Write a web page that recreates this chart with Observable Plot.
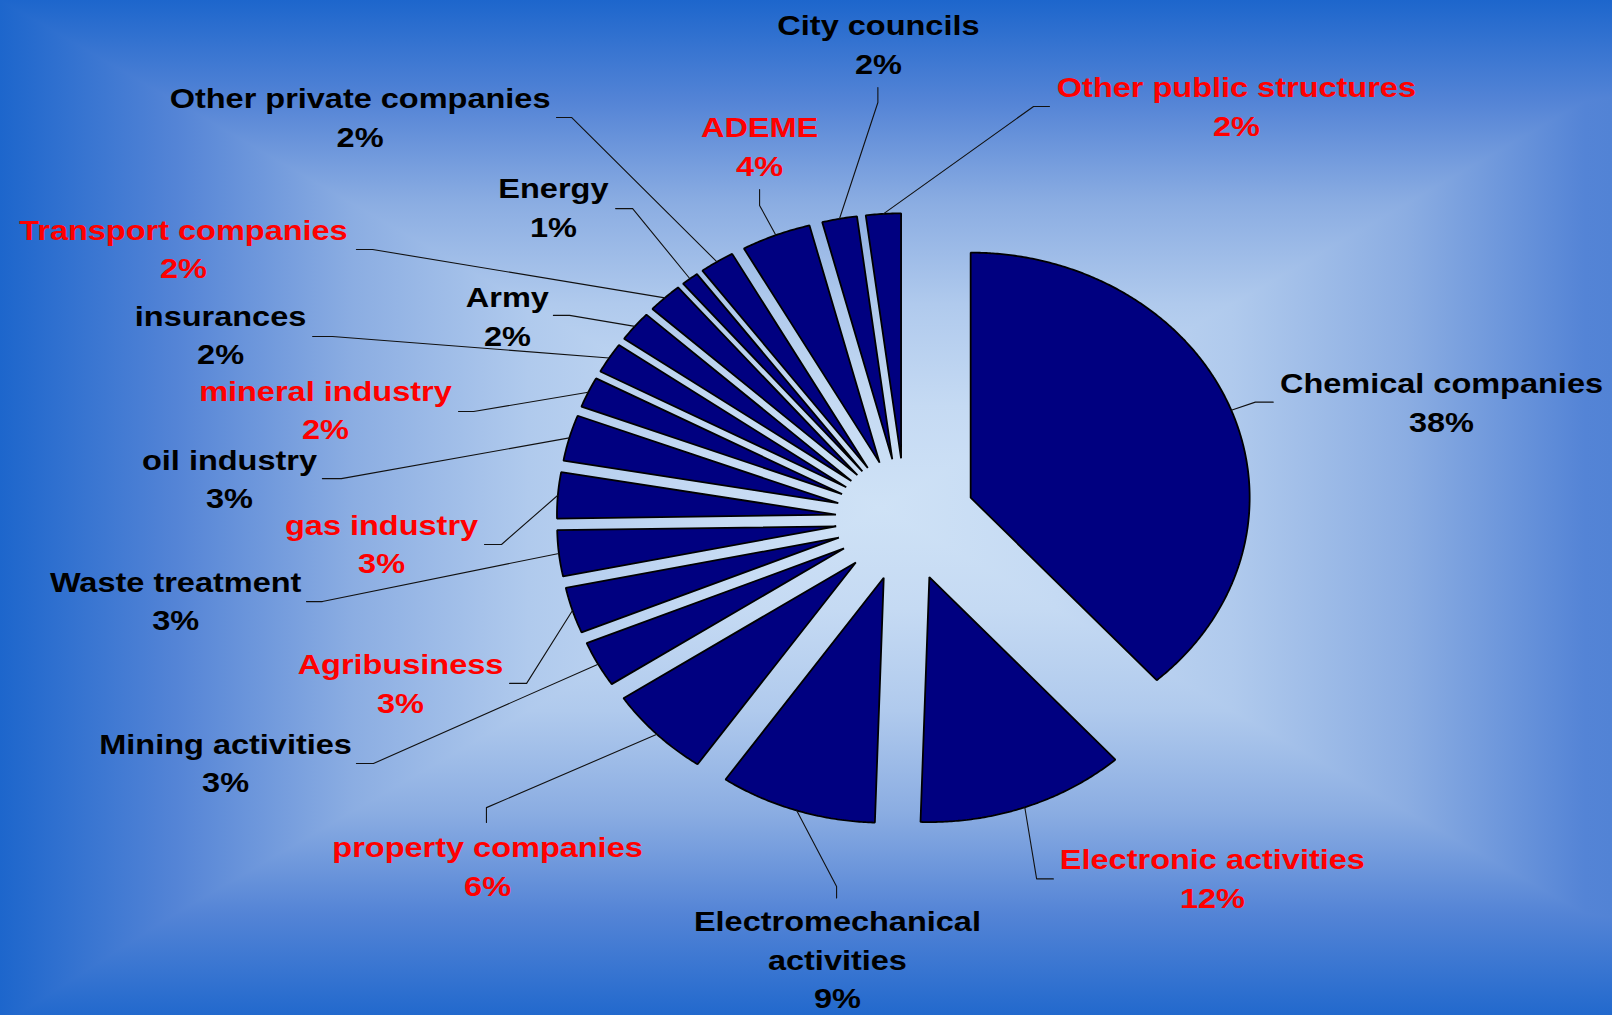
<!DOCTYPE html>
<html>
<head>
<meta charset="utf-8">
<script src="https://cdn.jsdelivr.net/npm/d3@7"></script>
<script src="https://cdn.jsdelivr.net/npm/@observablehq/plot@0.6"></script>
<style>
html, body { margin: 0; padding: 0; }
#chart {
  width: 1612px; height: 1015px; position: relative; overflow: hidden;
  background-image:
    linear-gradient(to right, #1d66cc 0%, #5484d6 10.9%, #8bade2 21.8%, #b0caed 32.8%, #c5daf3 43.7%, #cfe2f6 54.6%, #c5daf3 65.5%, #b0caed 76.4%, #8bade2 87.3%, #5484d6 98.3%, #5283d5 100%),
    linear-gradient(to bottom, #1d66cc 0%, #5484d6 10%, #8bade2 20%, #b0caed 30%, #c5daf3 40%, #cfe2f6 50%, #c5daf3 60%, #b0caed 70%, #8bade2 80%, #5484d6 90%, #2269cd 100%);
  background-blend-mode: darken;
}
#chart svg { display: block; }
</style>
</head>
<body>
<div id="chart"></div>
<script>
// ---- data ----
const categories = [
  "Chemical companies", "Electronic activities", "Electromechanical activities",
  "property companies", "Mining activities", "Agribusiness", "Waste treatment",
  "gas industry", "oil industry", "mineral industry", "insurances", "Army",
  "Transport companies", "Energy", "Other private companies", "ADEME",
  "City councils", "Other public structures"
];
const shares = [38, 12, 9, 6, 3, 3, 3, 3, 3, 2, 2, 2, 2, 1, 2, 4, 2, 2];
const redLabels = [
  "Electronic activities", "property companies", "Agribusiness", "gas industry",
  "mineral industry", "Transport companies", "ADEME", "Other public structures"
];

// ---- label layout (in pie-radius units, y up) ----
const labelX = [1.921, 1.100, -0.244, -1.498, -2.437, -1.810, -2.616, -1.878, -2.423, -2.079, -2.455, -1.427, -2.588, -1.262, -1.955, -0.523, -0.097, 1.186];
const labelY = [0.359, -1.584, -1.994, -1.535, -1.114, -0.788, -0.453, -0.220, 0.045, 0.327, 0.633, 0.710, 0.984, 1.155, 1.522, 1.404, 1.820, 1.567];
const elbowX = [1.254, 0.470, -0.247, -1.502, -1.907, -1.358, -2.090, -1.448, -2.022, -1.548, -2.054, -1.204, -1.910, -0.978, -1.197, -0.523, -0.099, 0.459];
const elbowY = [0.479, -1.467, -1.498, -1.176, -0.996, -0.669, -0.335, -0.102, 0.167, 0.441, 0.747, 0.833, 1.102, 1.269, 1.641, 1.282, 1.702, 1.686];
const endX   = [1.318, 0.530, -0.247, -1.502, -1.968, -1.419, -2.147, -1.509, -2.090, -1.602, -2.125, -1.262, -1.968, -1.039, -1.251, -0.523, -0.099, 0.516];
const endY   = [0.479, -1.467, -1.545, -1.237, -0.996, -0.669, -0.335, -0.102, 0.167, 0.441, 0.747, 0.833, 1.102, 1.269, 1.641, 1.347, 1.763, 1.686];

const explode = 0.25;
const cx = 905, cy = 519, rx = 279, ry = 245;
const textStretch = 1.14;

// ---- geometry from data ----
const arcs = d3.pie().sort(null).value(d => d)(shares);
const slicePts = [];
const leaderPts = [];
arcs.forEach((a, i) => {
  const name = categories[i];
  const b = (a.startAngle + a.endAngle) / 2;
  const ox = explode * Math.sin(b), oy = explode * Math.cos(b);
  slicePts.push({name, x: ox, y: oy});
  const n = Math.max(2, Math.ceil((a.endAngle - a.startAngle) / 0.008));
  for (let k = 0; k <= n; ++k) {
    const t = a.startAngle + (a.endAngle - a.startAngle) * k / n;
    slicePts.push({name, x: ox + Math.sin(t), y: oy + Math.cos(t)});
  }
  leaderPts.push({name, x: (1 + explode) * Math.sin(b), y: (1 + explode) * Math.cos(b)});
  leaderPts.push({name, x: elbowX[i], y: elbowY[i]});
  leaderPts.push({name, x: endX[i], y: endY[i]});
});

const labels = categories.map((name, i) => ({
  name,
  x: labelX[i],
  y: labelY[i],
  text: name.replace("Electromechanical ", "Electromechanical\n") + "\n" + shares[i] + "%",
  red: redLabels.includes(name)
}));

const textOpts = {
  x: "x", y: "y", text: "text",
  fontSize: 28.5, fontWeight: "bold", fontFamily: "Liberation Sans, Arial, sans-serif",
  textAnchor: "middle", lineAnchor: "bottom", lineHeight: 1.35
};

const svg = Plot.plot({
  width: 1612,
  height: 1015,
  margin: 0,
  x: {domain: [-1, 1], range: [cx - rx, cx + rx], axis: null},
  y: {domain: [-1, 1], range: [cy + ry, cy - ry], axis: null},
  style: {background: "transparent", overflow: "visible"},
  marks: [
    Plot.line(slicePts, {x: "x", y: "y", z: "name", fill: "#000080", stroke: "#000000", strokeWidth: 1.8, curve: "linear-closed", strokeLinejoin: "miter"}),
    Plot.line(leaderPts, {x: "x", y: "y", z: "name", stroke: "#111111", strokeWidth: 1.1}),
    Plot.text(labels.filter(d => !d.red), {...textOpts, fill: "#000000"}),
    Plot.text(labels.filter(d => d.red), {...textOpts, fill: "#ff0000"})
  ]
});

// horizontal stretch of the labels, as in the reference
svg.querySelectorAll("text").forEach(t => {
  const tr = t.getAttribute("transform");
  if (tr && /translate/.test(tr)) {
    t.setAttribute("transform", tr + ` scale(${textStretch},1)`);
  } else {
    const x = parseFloat(t.getAttribute("x")) || 0, y = parseFloat(t.getAttribute("y")) || 0;
    t.setAttribute("transform", `translate(${x},${y}) scale(${textStretch},1) translate(${-x},${-y})`);
  }
});

document.getElementById("chart").appendChild(svg);
</script>
</body>
</html>
